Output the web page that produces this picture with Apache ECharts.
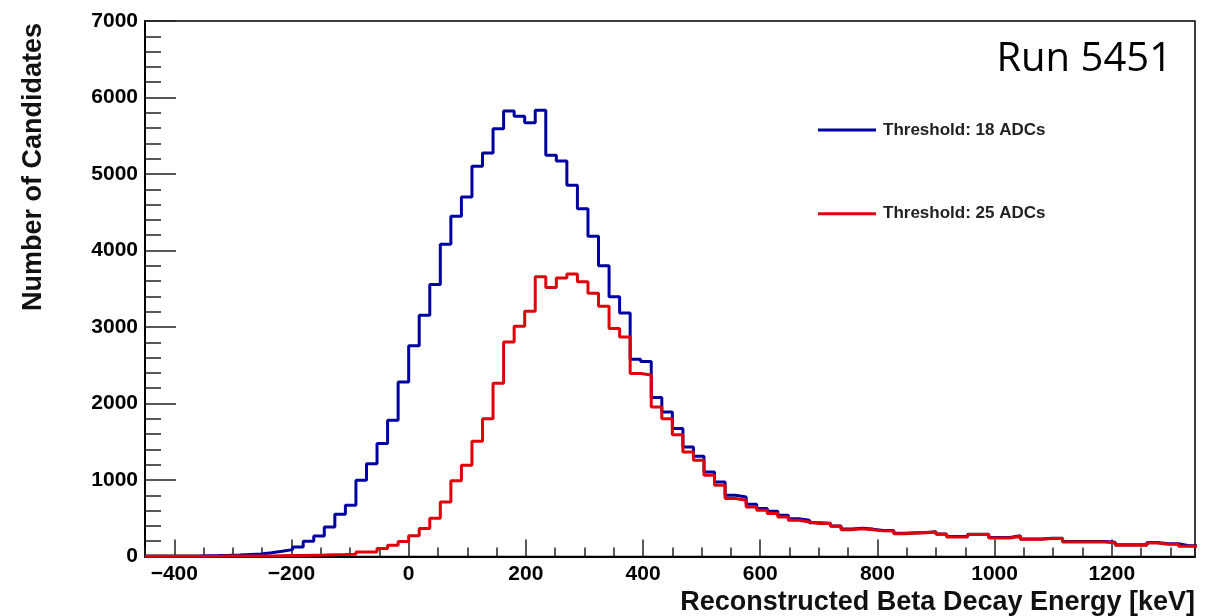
<!DOCTYPE html>
<html>
<head>
<meta charset="utf-8">
<script src="https://cdn.jsdelivr.net/npm/echarts@6/dist/echarts.min.js"></script>
<style>
  html, body { margin: 0; padding: 0; background: #fff; }
  #chart { width: 1218px; height: 616px; }
</style>
</head>
<body>
<div id="chart"></div>
<script>
// Histogram binning (keV)
const binStart = -450;
const binWidth = 18;

// Counts per bin, Threshold: 18 ADCs (blue)
const blueCounts = [
  5, 5, 5, 6, 8, 10, 12, 15, 20, 27,
  33, 50, 68, 90, 125, 199, 268, 386, 552, 669,
  996, 1214, 1476, 1780, 2281, 2755, 3153, 3555, 4081, 4447,
  4700, 5101, 5275, 5593, 5824, 5754, 5671, 5833, 5244, 5170,
  4852, 4547, 4186, 3800, 3395, 3183, 2580, 2550, 2080, 1889,
  1672, 1431, 1310, 1105, 974, 800, 778, 682, 626, 591,
  539, 495, 473, 440, 435, 400, 360, 370, 358, 340,
  340, 305, 310, 315, 325, 295, 262, 262, 292, 292,
  248, 248, 270, 230, 230, 240, 240, 196, 196, 196,
  196, 186, 152, 152, 152, 183, 166, 166, 140, 140
];

// Counts per bin, Threshold: 25 ADCs (red)
const redCounts = [
  2, 2, 3, 3, 3, 4, 4, 5, 5, 5,
  6, 8, 10, 12, 14, 16, 18, 22, 25, 30,
  59, 60, 103, 146, 195, 270, 365, 500, 712, 990,
  1192, 1506, 1802, 2265, 2804, 3010, 3207, 3658, 3515, 3641,
  3694, 3593, 3440, 3271, 2979, 2869, 2391, 2372, 1954, 1802,
  1590, 1366, 1258, 1061, 931, 757, 735, 647, 604, 561,
  516, 473, 451, 430, 430, 395, 351, 364, 351, 335,
  333, 299, 305, 310, 320, 290, 255, 255, 286, 286,
  242, 242, 264, 225, 225, 234, 234, 190, 190, 190,
  190, 180, 146, 146, 146, 177, 160, 160, 133, 133
];

const seriesNames = ['Threshold: 18 ADCs', 'Threshold: 25 ADCs'];
const xMajorTicks = [-400, -200, 0, 200, 400, 600, 800, 1000, 1200];
const yTicks = [0, 1000, 2000, 3000, 4000, 5000, 6000, 7000];
const xTitle = 'Reconstructed Beta Decay Energy [keV]';
const yTitle = 'Number of Candidates';
const runLabel = 'Run 5451';

function histPoints(counts) {
  const pts = counts.map((v, i) => [binStart + i * binWidth, v]);
  pts.push([binStart + counts.length * binWidth, counts[counts.length - 1]]);
  return pts;
}

const FONT = '"Liberation Sans", Arial, Helvetica, sans-serif';
const chart = echarts.init(document.getElementById('chart'), null, { renderer: 'canvas' });

chart.setOption({
  animation: false,
  backgroundColor: '#ffffff',
  grid: {
    left: 145, right: 23, top: 21, bottom: 59.5,
    show: true, borderColor: '#000', borderWidth: 1.5, backgroundColor: 'transparent'
  },
  legend: {
    orient: 'vertical',
    left: 813, top: 115,
    icon: 'rect',
    itemWidth: 58, itemHeight: 3,
    itemGap: 63.7,
    data: seriesNames,
    textStyle: {
      fontFamily: FONT, fontWeight: 'bold', fontSize: 17, color: '#222',
      lineHeight: 20, padding: [0, 0, 0, 2]
    }
  },
  xAxis: [
    {
      type: 'value', min: binStart, max: 1342,
      axisLine: { show: true, onZero: false, lineStyle: { color: '#000', width: 2 } },
      axisTick: { show: true, inside: true, length: 17, customValues: xMajorTicks,
                  lineStyle: { color: '#222', width: 1.5 } },
      axisLabel: {
        show: true, customValues: xMajorTicks, margin: 7,
        fontFamily: FONT, fontWeight: 'bold', fontSize: 21, color: '#000',
        formatter: v => String(v).replace('-', '\u2212')
      },
      splitLine: { show: false }
    },
    {
      type: 'value', min: binStart, max: 1342, interval: 50, position: 'bottom',
      axisLine: { show: false, onZero: false },
      axisTick: { show: true, inside: true, length: 9, lineStyle: { color: '#222', width: 1.5 } },
      axisLabel: { show: false },
      splitLine: { show: false }
    }
  ],
  yAxis: {
    type: 'value', min: yTicks[0], max: yTicks[yTicks.length - 1], interval: 1000,
    axisLine: { show: true, onZero: false, lineStyle: { color: '#000', width: 2 } },
    axisTick: { show: true, inside: true, length: 31, lineStyle: { color: '#222', width: 1.5 } },
    minorTick: { show: true, splitNumber: 5, length: 16, lineStyle: { color: '#222', width: 1.5 } },
    axisLabel: {
      margin: 7, fontFamily: FONT, fontWeight: 'bold', fontSize: 21, color: '#000',
      formatter: v => String(v)
    },
    splitLine: { show: false }
  },
  series: [
    {
      name: seriesNames[0], type: 'line', step: 'end', symbol: 'none',
      xAxisIndex: 0, data: histPoints(blueCounts),
      lineStyle: { color: '#0000a0', width: 3 }, itemStyle: { color: '#0000a0' },
      clip: true
    },
    {
      name: seriesNames[1], type: 'line', step: 'end', symbol: 'none',
      xAxisIndex: 0, data: histPoints(redCounts),
      lineStyle: { color: '#e0000a', width: 3 }, itemStyle: { color: '#e0000a' },
      clip: true
    }
  ],
  graphic: [
    {
      type: 'text', x: 1195, y: 602.5,
      style: { text: xTitle, align: 'right', verticalAlign: 'middle',
               font: 'bold 27px ' + FONT, fill: '#111' }
    },
    {
      type: 'text', x: 34, y: 23, rotation: Math.PI / 2,
      style: { text: yTitle, align: 'right', verticalAlign: 'middle',
               font: 'bold 27px ' + FONT, fill: '#111' }
    },
    {
      type: 'text', x: 1172, y: 59.5,
      style: { text: runLabel, align: 'right', verticalAlign: 'middle',
               font: '40px "Open Sans", Calibri, sans-serif', fill: '#000' }
    }
  ]
});
</script>
</body>
</html>
